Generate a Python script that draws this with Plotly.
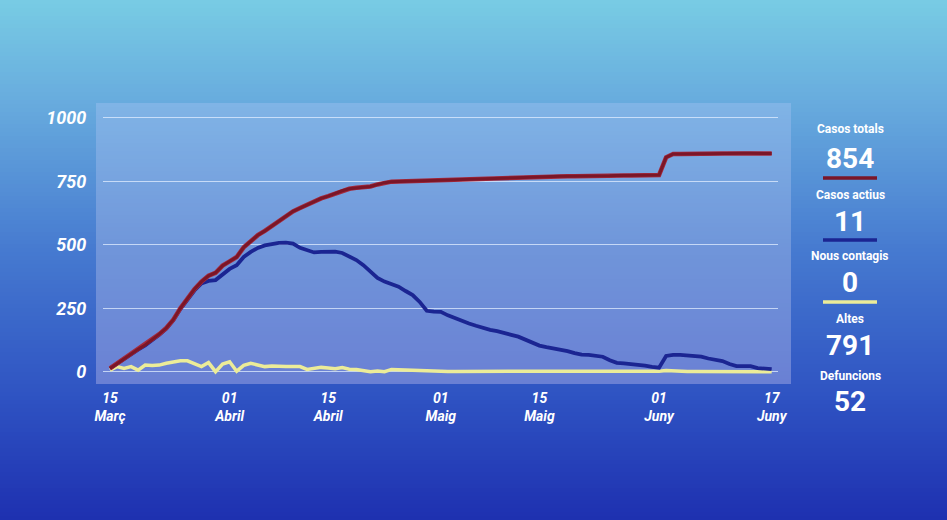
import plotly.graph_objects as go
import pandas as pd

# ---------------- data ----------------
start_date = "2020-03-15"

casos_totals = [13, 32, 52, 72, 88, 105, 125, 148, 172, 205,
                250, 290, 325, 355, 378, 390, 418, 435, 452, 490,
                515, 538, 555, 575, 595, 615, 632, 645, 658, 672,
                683, 692, 703, 713, 721, 725, 727, 730, 738, 745,
                749, 750, 751, 752, 753, 754, 755, 756, 757, 757,
                758, 758, 759, 760, 761, 762, 764, 765, 766, 767,
                768, 768, 769, 769, 770, 770, 770, 771, 771, 772,
                772, 772, 773, 773, 773, 774, 774, 774, 775, 845,
                858, 858, 859, 859, 859, 859, 860, 860, 860, 860,
                861, 861, 861, 861, 860]

casos_actius = [13, 32, 52, 71, 87, 104, 123, 146, 170, 203,
                247, 286, 320, 348, 358, 361, 385, 405, 420, 452,
                472, 488, 498, 503, 508, 509, 505, 488, 480, 470,
                472, 474, 473, 468, 455, 440, 420, 395, 370, 355,
                345, 335, 318, 302, 275, 240, 237, 236, 222, 210,
                198, 190, 181, 172, 165, 160, 154, 145, 138, 125,
                112, 103, 97, 92, 86, 81, 73, 67, 66, 62,
                59, 45, 35, 33, 31, 29, 24, 19, 16, 62,
                66, 66, 63, 60, 59, 52, 46, 42, 30, 22,
                22, 22, 14, 11, 10]

nous_contagis = [6, 20, 13, 20, 6, 26, 24, 26, 33, 38,
                 43, 43, 30, 20, 36, 0, 30, 39, 2, 25,
                 33, 28, 20, 22, 20, 20, 20, 20, 9, 14,
                 17, 15, 12, 16, 10, 9, 5, 0, 3, 0,
                 9, 8, 5, 3, 2, 1, 1, 2, 1, 1,
                 1, 2, 1, 1, 1, 2, 1, 1, 1, 1,
                 2, 1, 1, 1, 1, 2, 1, 1, 1, 1,
                 1, 1, 1, 1, 1, 1, 1, 1, 2, 5,
                 3, 1, 1, 1, 1, 1, 1, 1, 1, 1,
                 1, 1, 1, 1, 0]

tick_dates = ["2020-03-15", "2020-04-01", "2020-04-15", "2020-05-01",
              "2020-05-15", "2020-06-01", "2020-06-17"]
tick_labels = ["15<br>Març", "01<br>Abril", "15<br>Abril", "01<br>Maig",
               "15<br>Maig", "01<br>Juny", "17<br>Juny"]
y_ticks = [0, 250, 500, 750, 1000]

legend_labels = ["Casos totals", "Casos actius", "Nous contagis", "Altes", "Defuncions"]
legend_values = ["854", "11", "0", "791", "52"]

dates = pd.date_range(start_date, periods=len(casos_totals), freq="D")

# ---------------- layout helpers ----------------
W, H = 947, 520
L, R, T, B = 103, 778, 103, 384          # plot area in pixels
PW, PH = R - L, B - T


def px(x):
    return (x - L) / PW


def py(y):
    return (B - y) / PH


def lerp_color(stops, p):
    for (p0, c0), (p1, c1) in zip(stops, stops[1:]):
        if p0 <= p <= p1:
            t = (p - p0) / (p1 - p0) if p1 > p0 else 0
            return "rgb(%d,%d,%d)" % tuple(round(a + (b - a) * t) for a, b in zip(c0, c1))
    return "rgb(%d,%d,%d)" % stops[-1][1]


bg_stops = [(0, (120, 204, 228)), (100, (104, 172, 222)), (250, (70, 122, 208)),
            (400, (46, 82, 194)), (520, (30, 48, 176))]
panel_stops = [(103, (128, 180, 230)), (245, (112, 150, 218)), (384, (106, 128, 212))]

shapes = []
step = 4
for y0 in range(0, H, step):
    shapes.append(dict(type="rect", xref="paper", yref="paper", layer="below",
                       x0=px(0), x1=px(W), y0=py(y0 + step + 0.5), y1=py(y0),
                       fillcolor=lerp_color(bg_stops, y0 + step / 2), line=dict(width=0)))
for y0 in range(T, B, step):
    y1 = min(y0 + step, B)
    shapes.append(dict(type="rect", xref="paper", yref="paper", layer="below",
                       x0=px(96), x1=px(791), y0=py(y1 + (0.5 if y1 < B else 0)), y1=py(y0),
                       fillcolor=lerp_color(panel_stops, (y0 + y1) / 2), line=dict(width=0)))

RED, BLUE, YELLOW = "#7a1628", "#1b2592", "#ecec98"

# legend underline bars
for yy, col in [(178, RED), (240, BLUE), (302, YELLOW)]:
    shapes.append(dict(type="line", xref="paper", yref="paper", layer="above",
                       x0=px(823), x1=px(877), y0=py(yy), y1=py(yy),
                       line=dict(color=col, width=3.5)))

annotations = []
label_y = [129, 195, 256, 319, 376]
value_y = [158, 221, 282, 345, 401]
for lab, val, ly, vy in zip(legend_labels, legend_values, label_y, value_y):
    annotations.append(dict(text=lab, xref="paper", yref="paper", x=px(850), y=py(ly),
                            xanchor="center", yanchor="middle", showarrow=False,
                            font=dict(family="Roboto", size=12, color="white", weight="bold")))
    annotations.append(dict(text=val, xref="paper", yref="paper", x=px(850), y=py(vy),
                            xanchor="center", yanchor="middle", showarrow=False,
                            font=dict(family="Roboto", size=28, color="white", weight="bold")))

fig = go.Figure()
fig.add_trace(go.Scatter(x=dates, y=nous_contagis, mode="lines", name="Nous contagis",
                         line=dict(color=YELLOW, width=3.5)))
fig.add_trace(go.Scatter(x=dates, y=casos_actius, mode="lines", name="Casos actius",
                         line=dict(color=BLUE, width=3.8)))
fig.add_trace(go.Scatter(x=dates, y=casos_totals, mode="lines", name="Casos totals",
                         line=dict(color="#a52a3c", width=4.5)))
fig.add_trace(go.Scatter(x=dates, y=casos_totals, mode="lines", name="Casos totals",
                         line=dict(color=RED, width=3)))

fig.update_layout(
    width=W, height=H,
    margin=dict(l=L, r=W - R, t=T, b=H - B),
    paper_bgcolor="#3a66cc", plot_bgcolor="rgba(0,0,0,0)",
    showlegend=False,
    shapes=shapes, annotations=annotations,
    xaxis=dict(type="date", range=["2020-03-14 00:15", "2020-06-17 21:30"],
               tickvals=tick_dates, ticktext=tick_labels, showgrid=False, zeroline=False,
               showline=False, ticks="outside", ticklen=1, tickcolor="rgba(0,0,0,0)",
               tickfont=dict(family="Roboto", size=14, color="white", weight="bold", style="italic")),
    yaxis=dict(range=[-48.5, 1059], tickvals=y_ticks, showgrid=True,
               gridcolor="rgba(225,238,255,0.75)", gridwidth=1.3, zeroline=False,
               showline=False, ticks="outside", ticklen=12, tickcolor="rgba(0,0,0,0)",
               tickfont=dict(family="Roboto", size=18, color="white", weight="bold", style="italic")),
)

fig.write_html("out.html")
